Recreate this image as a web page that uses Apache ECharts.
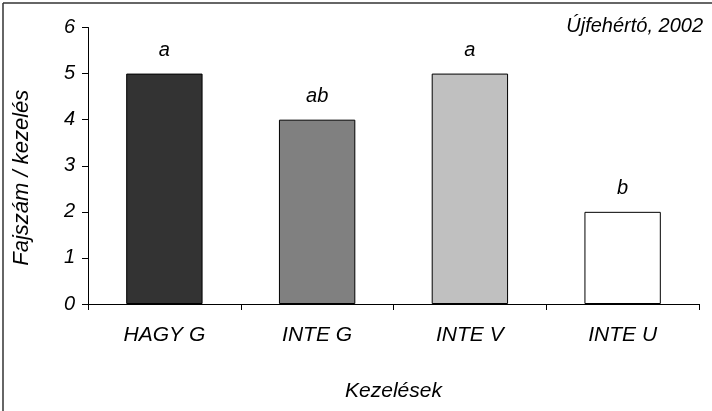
<!DOCTYPE html>
<html>
<head>
<meta charset="utf-8">
<script src="https://cdn.jsdelivr.net/npm/echarts@6/dist/echarts.min.js"></script>
<style>
  html, body { margin: 0; padding: 0; background: #fff; }
  #chart { width: 712px; height: 411px; }
</style>
</head>
<body>
<div id="chart"></div>
<script>
// Species count per treatment, with significance letters
const categories = ['HAGY G', 'INTE G', 'INTE V', 'INTE U'];
const values = [5, 4, 5, 2];
const letters = ['a', 'ab', 'a', 'b'];
const barColors = ['#333333', '#808080', '#c0c0c0', '#ffffff'];
const yTicks = [0, 1, 2, 3, 4, 5, 6];

const FONT = '"Liberation Sans", Arial, sans-serif';

const chart = echarts.init(document.getElementById('chart'), null, { renderer: 'canvas' });

chart.setOption({
  animation: false,
  backgroundColor: '#ffffff',
  title: {
    text: 'Újfehértó, 2002',
    right: 4,
    top: 11,
    textStyle: { fontFamily: FONT, fontStyle: 'italic', fontWeight: 'normal', fontSize: 20, color: '#000' }
  },
  graphic: [
    { type: 'line', shape: { x1: 3, y1: 3, x2: 712, y2: 3 }, style: { stroke: '#333', lineWidth: 1.5 } },
    { type: 'line', shape: { x1: 3, y1: 3, x2: 3, y2: 411 }, style: { stroke: '#333', lineWidth: 1.5 } }
  ],
  grid: { left: 88, right: 13, top: 27.5, bottom: 107, containLabel: false },
  xAxis: {
    type: 'category',
    data: categories,
    name: 'Kezelések',
    nameLocation: 'middle',
    nameGap: 77,
    nameTextStyle: { fontFamily: FONT, fontStyle: 'italic', fontSize: 21, color: '#000' },
    axisLine: { lineStyle: { color: '#000', width: 1 } },
    axisTick: { show: true, alignWithLabel: false, length: 6, inside: false, lineStyle: { color: '#000' } },
    axisLabel: { fontFamily: FONT, fontStyle: 'italic', fontSize: 21, color: '#000', margin: 21 }
  },
  yAxis: {
    type: 'value',
    min: yTicks[0],
    max: yTicks[yTicks.length - 1],
    interval: 1,
    name: 'Fajszám / kezelés',
    nameLocation: 'middle',
    nameGap: 55,
    nameTextStyle: { fontFamily: FONT, fontStyle: 'italic', fontSize: 22, color: '#000', padding: [0, 24, 0, 0] },
    axisLine: { show: true, lineStyle: { color: '#000', width: 1 } },
    axisTick: { show: true, length: 6, lineStyle: { color: '#000' } },
    axisLabel: { fontFamily: FONT, fontStyle: 'italic', fontSize: 20, color: '#000', margin: 13 },
    splitLine: { show: false }
  },
  series: [{
    type: 'bar',
    barWidth: '50%',
    data: values.map((v, i) => ({
      value: v,
      itemStyle: { color: barColors[i], borderColor: '#000', borderWidth: 1 },
      label: { formatter: letters[i] }
    })),
    label: {
      show: true,
      position: 'top',
      distance: 13,
      fontFamily: FONT, fontStyle: 'italic', fontSize: 20, color: '#000'
    }
  }]
});
</script>
</body>
</html>
